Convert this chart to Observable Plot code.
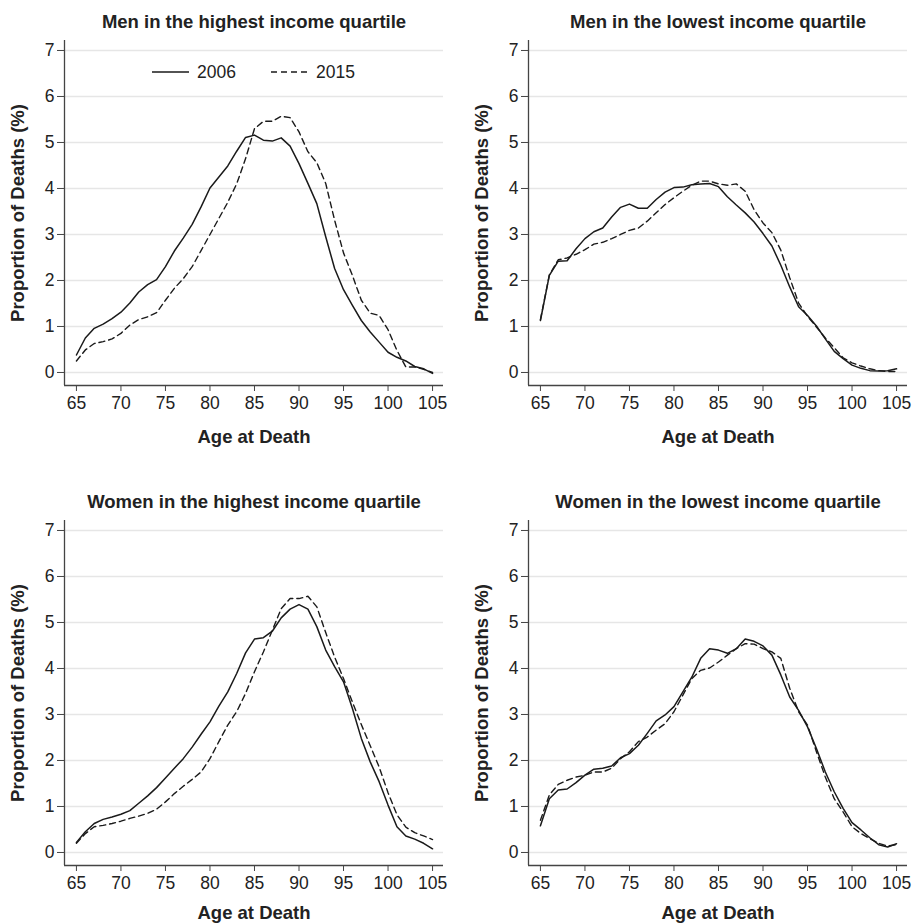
<!DOCTYPE html>
<html><head><meta charset="utf-8">
<script src="https://cdn.jsdelivr.net/npm/d3@7"></script>
<script src="https://cdn.jsdelivr.net/npm/@observablehq/plot@0.6"></script>
<style>
body{margin:0;background:#fff;font-family:"Liberation Sans",Arial,Helvetica,sans-serif;}
#root{position:relative;width:913px;height:924px;overflow:hidden;background:#fff}
.panel{position:absolute}
</style></head><body><div id="root"></div>
<script>
// ---- data ----
const ages = [65,66,67,68,69,70,71,72,73,74,75,76,77,78,79,80,81,82,83,84,85,86,87,88,89,90,91,92,93,94,95,96,97,98,99,100,101,102,103,104,105];
const xTicks = [65,70,75,80,85,90,95,100,105];
const yTicks = [0,1,2,3,4,5,6,7];
const panelTitles = ["Men in the highest income quartile","Men in the lowest income quartile","Women in the highest income quartile","Women in the lowest income quartile"];
const xLabel = "Age at Death";
const yLabel = "Proportion of Deaths (%)";
const years = ["2006","2015"];

const menHigh2006 = [0.38,0.75,0.96,1.05,1.17,1.31,1.51,1.75,1.91,2.02,2.30,2.64,2.92,3.22,3.60,4.01,4.25,4.49,4.81,5.11,5.16,5.05,5.03,5.10,4.92,4.54,4.11,3.67,2.95,2.26,1.80,1.46,1.13,0.88,0.66,0.44,0.33,0.25,0.13,0.08,-0.02];
const menHigh2015 = [0.25,0.49,0.63,0.67,0.73,0.85,1.03,1.15,1.21,1.30,1.57,1.83,2.04,2.30,2.65,3.00,3.35,3.70,4.10,4.65,5.30,5.46,5.46,5.57,5.54,5.23,4.80,4.56,4.11,3.31,2.60,2.11,1.57,1.29,1.24,0.93,0.48,0.12,0.12,0.07,0.00];
const menLow2006 = [1.13,2.11,2.42,2.43,2.69,2.91,3.06,3.14,3.38,3.59,3.66,3.57,3.57,3.76,3.92,4.02,4.03,4.08,4.10,4.11,4.04,3.82,3.64,3.47,3.27,3.02,2.75,2.33,1.86,1.43,1.24,1.01,0.73,0.46,0.30,0.16,0.09,0.04,0.03,0.04,0.08];
const menLow2015 = [1.15,2.12,2.45,2.49,2.57,2.67,2.79,2.83,2.91,3.00,3.09,3.14,3.29,3.47,3.65,3.80,3.94,4.07,4.16,4.16,4.10,4.07,4.10,3.94,3.54,3.25,3.04,2.66,2.06,1.51,1.22,0.99,0.75,0.54,0.32,0.21,0.14,0.08,0.04,0.02,0.02];
const womenHigh2006 = [0.22,0.45,0.63,0.72,0.77,0.83,0.91,1.07,1.23,1.41,1.62,1.83,2.04,2.29,2.57,2.84,3.18,3.49,3.89,4.34,4.64,4.67,4.81,5.10,5.29,5.39,5.29,4.91,4.40,4.04,3.71,3.13,2.48,1.97,1.54,1.03,0.56,0.36,0.29,0.20,0.08];
const womenHigh2015 = [0.20,0.41,0.56,0.59,0.63,0.68,0.74,0.79,0.85,0.94,1.10,1.28,1.44,1.59,1.75,2.04,2.41,2.77,3.06,3.46,3.93,4.36,4.83,5.30,5.52,5.52,5.57,5.34,4.78,4.25,3.78,3.27,2.78,2.32,1.86,1.30,0.82,0.55,0.43,0.36,0.28];
const womenLow2006 = [0.58,1.17,1.36,1.38,1.52,1.68,1.81,1.83,1.88,2.06,2.15,2.33,2.59,2.86,2.99,3.17,3.49,3.81,4.22,4.43,4.40,4.33,4.43,4.64,4.59,4.49,4.29,3.86,3.38,3.09,2.73,2.26,1.75,1.32,0.96,0.65,0.49,0.32,0.17,0.12,0.19];
const womenLow2015 = [0.70,1.25,1.48,1.57,1.64,1.68,1.75,1.75,1.83,2.04,2.19,2.41,2.51,2.66,2.80,3.06,3.42,3.78,3.96,4.01,4.14,4.29,4.43,4.54,4.53,4.43,4.36,4.22,3.57,3.06,2.77,2.19,1.64,1.17,0.88,0.56,0.41,0.30,0.20,0.14,0.17];

// ---- layout ----
const FONT = '"Liberation Sans", Arial, Helvetica, sans-serif';
const xDomain = [63.66, 106.23];
const yDomain = [-0.283, 7.217];
const root = document.getElementById("root");

function makePanel(title, s2006, s2015, left, top, height, xLabelDy) {
  const rows06 = ages.map((a, i) => ({age: a, v: s2006[i]}));
  const rows15 = ages.map((a, i) => ({age: a, v: s2015[i]}));
  const chart = Plot.plot({
    width: 449, height,
    marginLeft: 64, marginRight: 6, marginTop: 40, marginBottom: height - 385,
    style: {fontFamily: FONT, fontSize: "17.5px", color: "#222", background: "white", overflow: "visible"},
    x: {domain: xDomain},
    y: {domain: yDomain},
    marks: [
      Plot.gridY(yTicks, {stroke: "#e6e6e6", strokeOpacity: 1, strokeWidth: 1.3}),
      Plot.ruleX([xDomain[0]], {stroke: "#444", strokeWidth: 1.3}),
      Plot.ruleY([yDomain[0]], {stroke: "#444", strokeWidth: 1.3}),
      Plot.axisX({ticks: xTicks, tickSize: 6, tickPadding: 5, label: null, stroke: "#444", fontSize: 17.5}),
      Plot.axisY({ticks: yTicks, tickSize: 7, tickPadding: 3, label: null, stroke: "#444", fontSize: 17.5}),
      Plot.line(rows06, {x: "age", y: "v", stroke: "#1a1a1a", strokeWidth: 1.5}),
      Plot.line(rows15, {x: "age", y: "v", stroke: "#1a1a1a", strokeWidth: 1.4, strokeDasharray: "6,4"}),
      Plot.text([title], {frameAnchor: "top", lineAnchor: "middle", dy: -18, fontSize: 18.5, fontWeight: "bold", fill: "#222"}),
      Plot.text([xLabel], {frameAnchor: "bottom", lineAnchor: "middle", dy: xLabelDy, fontSize: 18.5, fontWeight: "bold", fill: "#222"}),
      Plot.text([yLabel], {frameAnchor: "left", textAnchor: "middle", dx: -46, rotate: -90, fontSize: 18.5, fontWeight: "bold", fill: "#222"})
    ]
  });
  const div = document.createElement("div");
  div.className = "panel";
  div.style.left = left + "px";
  div.style.top = top + "px";
  div.appendChild(chart);
  root.appendChild(div);
  return div;
}

const p1 = makePanel(panelTitles[0], menHigh2006, menHigh2015, 0, 0, 480, 52);
makePanel(panelTitles[1], menLow2006, menLow2015, 464, 0, 480, 52);
makePanel(panelTitles[2], womenHigh2006, womenHigh2015, 0, 480, 444, 48);
makePanel(panelTitles[3], womenLow2006, womenLow2015, 464, 480, 444, 48);

// legend inside first panel
const ns = "http://www.w3.org/2000/svg";
const leg = document.createElementNS(ns, "svg");
leg.setAttribute("width", "220"); leg.setAttribute("height", "24");
leg.style.position = "absolute"; leg.style.left = "150px"; leg.style.top = "60px";
leg.style.fontFamily = FONT; leg.style.fontSize = "17.5px";
const items = [{x: 2, dash: null, label: years[0]}, {x: 121, dash: "6,4", label: years[1]}];
items.forEach(it => {
  const l = document.createElementNS(ns, "line");
  l.setAttribute("x1", it.x); l.setAttribute("x2", it.x + 37);
  l.setAttribute("y1", 12); l.setAttribute("y2", 12);
  l.setAttribute("stroke", "#1a1a1a"); l.setAttribute("stroke-width", "1.5");
  if (it.dash) l.setAttribute("stroke-dasharray", it.dash);
  leg.appendChild(l);
  const t = document.createElementNS(ns, "text");
  t.setAttribute("x", it.x + 45); t.setAttribute("y", 18);
  t.setAttribute("fill", "#222");
  t.textContent = it.label;
  leg.appendChild(t);
});
p1.appendChild(leg);
</script>
</body></html>
